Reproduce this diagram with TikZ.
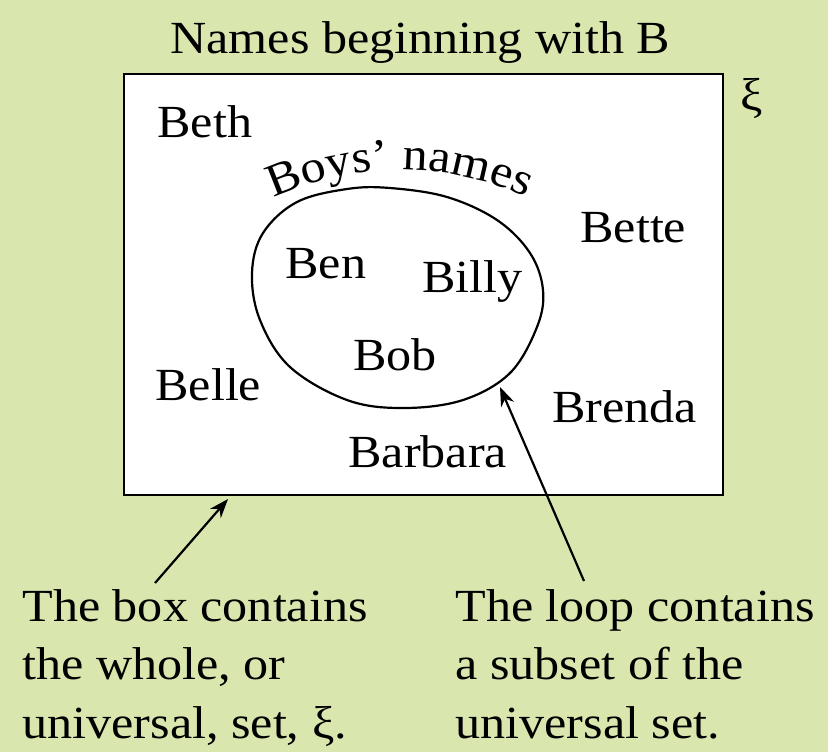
\documentclass[tikz,border=0pt]{standalone}
\usepackage{fontspec}
\setmainfont{Liberation Serif}[FakeStretch=1.09]
\usetikzlibrary{arrows.meta,decorations.text}
\definecolor{bg}{RGB}{217,231,174}
\begin{document}
\begin{tikzpicture}[x=0.5pt,y=-0.5pt,
  lbl/.style={font=\fontsize{23}{28}\selectfont, inner sep=0pt, anchor=base west},
  arr/.style={line width=1.1pt,-{Stealth[length=9.5pt,width=7pt,inset=3pt]}},
  loopline/.style={line width=1.1pt}]
\fill[bg] (0,0) rectangle (828,752);
\useasboundingbox (0,0) rectangle (828,752);
% title
\node[lbl] (title) at (170,53) {Names beginning with B};
% universal box
\node[draw, fill=white, line width=1.3pt, inner sep=0pt,
      minimum width=299.5pt, minimum height=210.5pt] (box) at (423.5,284.5) {};
\node[lbl] (xi) at (740,110) {ξ};
% loop
\draw[loopline] plot[smooth cycle, tension=0.6] coordinates {
  (252,273) (263,233) (297,202) (347,189) (390,188) (447,197) (497,220)
  (530,253) (543,290) (537,327) (510,373) (463,400) (403,408) (347,400)
  (290,367) (260,320)};
\coordinate (looptip) at (500,387);
\path[decorate, decoration={text along path, text align=center,
   text={|\fontsize{23}{28}\selectfont|Boys' names}}]
   (250,209.7) .. controls (343,156.7) and (457,156.7) .. (550,209.7);
% names
\node[lbl] (beth) at (157,137) {Beth};
\node[lbl] (bette) at (580,242) {Bette};
\node[lbl] (ben) at (285,278) {Ben};
\node[lbl] (billy) at (422,292) {Billy};
\node[lbl] (bob) at (353,370) {Bob};
\node[lbl] (belle) at (155,400) {Belle};
\node[lbl] (brenda) at (552,422) {Brenda};
\node[lbl] (barbara) at (348,467) {Barbara};
% notes
\node[lbl] (l1) at (22,621) {The box contains};
\node[lbl] (l2) at (22,679) {the whole, or};
\node[lbl] (l3) at (22,738) {universal, set, ξ.};
\node[lbl] (r1) at (455,621) {The loop contains};
\node[lbl] (r2) at (455,679) {a subset of the};
\node[lbl] (r3) at (455,738) {universal set.};
\coordinate (ltail) at (155,583);
\coordinate (boxtip) at (228,499);
\coordinate (rtail) at (584,581);
\draw[arr] (ltail) -- (boxtip);
\draw[arr] (rtail) -- (looptip);
\end{tikzpicture}
\end{document}
